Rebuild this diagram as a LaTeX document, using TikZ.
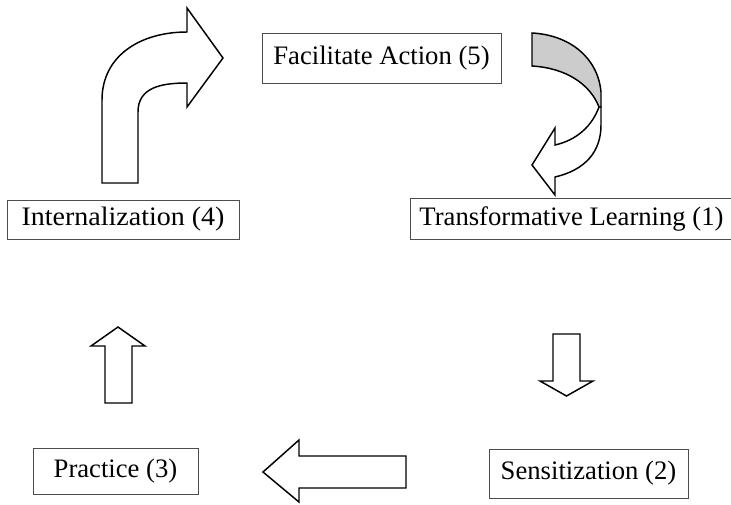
\documentclass[tikz,border=0pt]{standalone}
\usepackage{fontspec}
\setmainfont{Liberation Serif}
\begin{document}
\begin{tikzpicture}[x=0.75pt, y=-0.75pt,
  stage/.style={rectangle, draw=black!70, line width=0.7pt, inner sep=0pt,
    font=\fontsize{20}{23}\selectfont},
  blockarrow/.style={draw=black, line width=1.1pt, line join=miter, fill=white}]
\useasboundingbox (0,0) rectangle (731,504);
% stages
\node[stage, minimum width=179.25pt, minimum height=37.5pt] (fac) at (381.5,58) {Facilitate Action (5)};
\node[stage, minimum width=242.25pt, minimum height=30.75pt] (trans) at (571.5,218.5) {Transformative Learning (1)};
\node[stage, minimum width=149.25pt, minimum height=36.75pt] (sens) at (588.5,473.5) {Sensitization (2)};
\node[stage, minimum width=123.75pt, minimum height=34.5pt] (prac) at (115.5,471) {Practice (3)\hspace{8pt}};
\node[stage, minimum width=174pt, minimum height=29.25pt] (intern) at (123,219.5) {\scalebox{1.05}[1]{Internalization (4)}};
% curved arrow 5 -> 1
\draw[blockarrow, fill=black!20] (532,33) -- (532,66) .. controls (566,68) and (590,84) .. (599,107)
  -- (601,107) -- (601,92) .. controls (598,58) and (570,35) .. cycle;
\draw[blockarrow] (599,107) .. controls (592,126) and (577,140) .. (555,145) -- (555,128) -- (532,165)
  -- (555,195) -- (555,177) .. controls (585,170) and (601,152) .. (601,125) -- (601,107) -- cycle;
% down arrow 1 -> 2
\draw[blockarrow] (553,334) -- (580,334) -- (580,381) -- (593,381) -- (566.5,396) -- (540,381)
  -- (553,381) -- cycle;
% left arrow 2 -> 3
\draw[blockarrow] (406,456) -- (406,488) -- (299,488) -- (299,502) -- (263,472) -- (299,440)
  -- (299,456) -- cycle;
% up arrow 3 -> 4
\draw[blockarrow] (105,403) -- (105,346) -- (91,346) -- (118,327) -- (145,346) -- (132,346)
  -- (132,403) -- cycle;
% bent arrow 4 -> 5
\draw[blockarrow] (102,183) -- (102,100) .. controls (102,56) and (140,32) .. (187,32) -- (187,8)
  -- (223,58) -- (187,107) -- (187,83) .. controls (160,83) and (138,88) .. (138,112) -- (138,183) -- cycle;
\end{tikzpicture}
\end{document}
